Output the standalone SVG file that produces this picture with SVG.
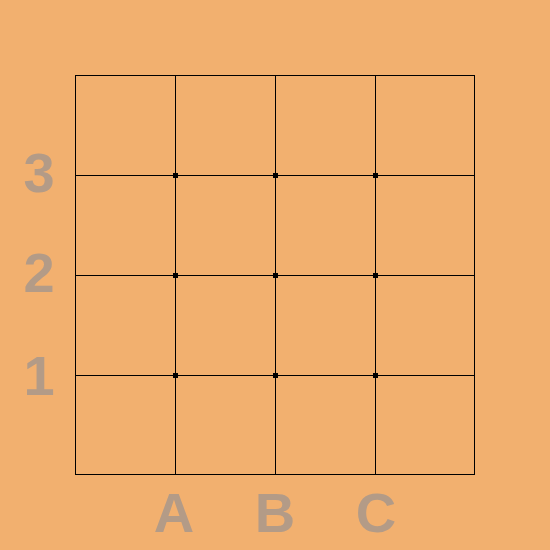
<svg xmlns="http://www.w3.org/2000/svg" width="550" height="550" viewBox="0 0 550 550">
<style>
.grid{stroke:#000;stroke-width:1;fill:none}
.lbl{font-family:"Liberation Sans",Arial,sans-serif;font-weight:bold;font-size:56px;fill:#b39b87;text-anchor:middle}
.dot{fill:#000}
</style>
<rect x="0" y="0" width="550" height="550" fill="#f2b06f"/>
<g id="connectors" class="grid">
<rect x="75.5" y="75.5" width="399" height="399"/>
<path d="M175.5 75.5V474.5M275.5 75.5V474.5M375.5 75.5V474.5M75.5 175.5H474.5M75.5 275.5H474.5M75.5 375.5H474.5"/>
</g>
<g id="points">
<rect class="dot" x="173" y="173" width="5" height="5"/>
<rect class="dot" x="273" y="173" width="5" height="5"/>
<rect class="dot" x="373" y="173" width="5" height="5"/>
<rect class="dot" x="173" y="273" width="5" height="5"/>
<rect class="dot" x="273" y="273" width="5" height="5"/>
<rect class="dot" x="373" y="273" width="5" height="5"/>
<rect class="dot" x="173" y="373" width="5" height="5"/>
<rect class="dot" x="273" y="373" width="5" height="5"/>
<rect class="dot" x="373" y="373" width="5" height="5"/>
</g>
<g id="row-labels">
<text class="lbl" x="39" y="192">3</text>
<text class="lbl" x="39" y="292">2</text>
<text class="lbl" x="39" y="395">1</text>
</g>
<g id="col-labels">
<text class="lbl" x="174" y="532">A</text>
<text class="lbl" x="275" y="532">B</text>
<text class="lbl" x="376" y="532">C</text>
</g>
</svg>
